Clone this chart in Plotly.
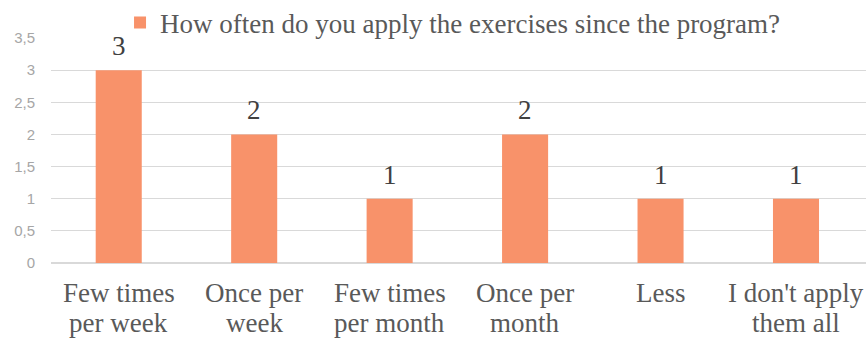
import plotly.graph_objects as go

categories = ["Few times<br>per week", "Once per<br>week", "Few times<br>per month",
              "Once per<br>month", "Less", "I don't apply<br>them all"]
values = [3, 2, 1, 2, 1, 1]
series_name = "How often do you apply the exercises since the program?"
y_ticks = [0, 0.5, 1, 1.5, 2, 2.5, 3, 3.5]

serif = "Liberation Serif, Times New Roman, serif"
fs = 27

fig = go.Figure()
fig.add_trace(go.Bar(
    x=categories, y=values, name=series_name,
    marker=dict(color="#F8926A", line=dict(width=0)),
    width=0.34,
    showlegend=True,
))

annotations = []
# data labels
for c, v in zip(categories, values):
    annotations.append(dict(x=c, y=v, xref="x", yref="y", text=str(v), showarrow=False,
                            yanchor="middle", yshift=24,
                            font=dict(family=serif, size=fs, color="#404040")))
# category labels (two lines with tighter spacing)
for c in categories:
    parts = c.split("<br>")
    if len(parts) == 1:
        parts = parts + [""]
    for i, p in enumerate(parts):
        if not p:
            continue
        annotations.append(dict(x=c, y=0, xref="x", yref="y", text=p, showarrow=False,
                                yanchor="middle", yshift=-30 - 29.5 * i,
                                font=dict(family=serif, size=fs, color="#595959")))

fig.update_layout(
    width=868, height=340,
    margin=dict(l=51, r=2, t=38, b=77, autoexpand=False),
    plot_bgcolor="white", paper_bgcolor="white",
    separators=",.",
    showlegend=True,
    legend=dict(orientation="h", x=0.0847, xanchor="left", y=1.0667, yanchor="middle",
                font=dict(family=serif, size=fs, color="#595959"),
                itemwidth=30, bgcolor="rgba(0,0,0,0)"),
    xaxis=dict(showticklabels=False, showgrid=False, showline=False, ticks=""),
    yaxis=dict(range=[0, 3.5], tickvals=y_ticks, tickformat=".1~f",
               tickfont=dict(family="Liberation Sans, Arial, sans-serif", size=15, color="#A6A6A6"),
               gridcolor="#D9D9D9", gridwidth=1, zeroline=True, zerolinecolor="#D9D9D9",
               showline=False, ticks="", ticklabelstandoff=15),
    annotations=annotations,
)
fig.write_html("out.html")
